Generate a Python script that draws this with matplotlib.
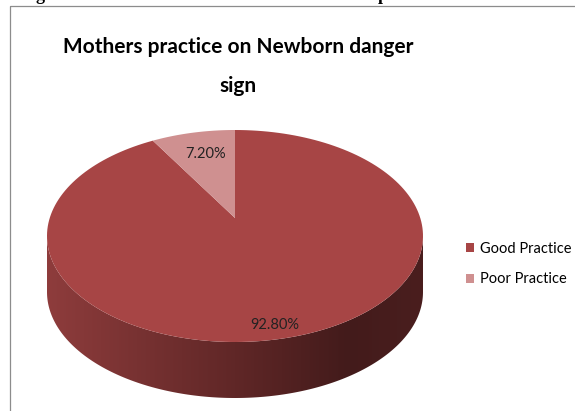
import numpy as np
import matplotlib.pyplot as plt
from matplotlib.patches import Polygon, Rectangle, Patch
from matplotlib.colors import LinearSegmentedColormap

# data
labels = ['Good Practice', 'Poor Practice']
values = [92.8, 7.2]
pct_labels = ['92.80%', '7.20%']
colors = ['#A74545', '#CF9090']
title_lines = ['Mothers practice on Newborn danger', 'sign']

fig = plt.figure(figsize=(5.75, 4.11), dpi=100)
ax = fig.add_axes([0, 0, 1, 1])
ax.set_xlim(0, 575)
ax.set_ylim(411, 0)
ax.axis('off')

# chart frame (runs off the picture on the right and bottom)
ax.add_patch(Rectangle((10, 6), 700, 500, fill=False, ec='#8C8C8C', lw=0.9))

# cut caption above the frame
for ch, x in [('g', 40), ('p', 383)]:
    ax.text(x, 0.5, ch, family='Liberation Serif', weight='bold', fontsize=13,
            ha='center', va='baseline')

for line, y in zip(title_lines, [53, 92]):
    ax.text(238, y, line, fontsize=15, weight='bold', family='Lato',
            ha='center', va='baseline')

# 3d pie geometry
cx, cy, rx, ry, depth = 235, 236, 188, 106, 56
apex = (cx, cy - 18)


def rim(t):
    t = np.radians(t)
    return cx + rx * np.sin(t), cy - ry * np.cos(t)


# side wall, front half only
t = np.linspace(90, 270, 300)
xs, ys = rim(t)
side = np.vstack([np.column_stack([xs, ys]),
                  np.column_stack([xs[::-1], ys[::-1] + depth])])
side_patch = Polygon(side, closed=True, fc='none', ec='none')
ax.add_patch(side_patch)
cmap = LinearSegmentedColormap.from_list(
    'side', [(0, '#8E3C3C'), (0.5, '#602727'), (0.8, '#431B1B'), (1, '#4A1E1E')])
grad = np.linspace(0, 1, 256).reshape(1, -1)
im = ax.imshow(grad, cmap=cmap, aspect='auto',
               extent=(cx - rx, cx + rx, cy + depth + ry + 2, cy - 2), zorder=1)
im.set_clip_path(side_patch)

# top face wedges, clockwise from 12 o'clock
start = 0
total = sum(values)
for v, c, lab in zip(values, colors, pct_labels):
    end = start + 360 * v / total
    tt = np.linspace(start, end, 200)
    px, py = rim(tt)
    pts = np.vstack([[apex], np.column_stack([px, py])])
    ax.add_patch(Polygon(pts, closed=True, fc=c, ec='none', zorder=2))
    mx, my = rim((start + end) / 2)
    f = 0.88 if v > 50 else 0.75
    lx = apex[0] + f * (mx - apex[0]) + (3 if v > 50 else 2)
    ly = apex[1] + f * (my - apex[1])
    ax.text(lx, ly, lab, fontsize=10.5, family='Lato', color='#222222',
            ha='center', va='center', zorder=3)
    start = end

handles = [Patch(fc=c, ec='none') for c in colors]
ax.legend(handles, labels, loc='center left', bbox_to_anchor=(466 / 575, 1 - 264 / 411),
          frameon=False, prop={'family': 'Lato', 'size': 10.5},
          handlelength=0.55, handleheight=0.55, handletextpad=0.4,
          labelspacing=1.15, borderpad=0, borderaxespad=0)

fig.savefig('out.png', dpi=100)
